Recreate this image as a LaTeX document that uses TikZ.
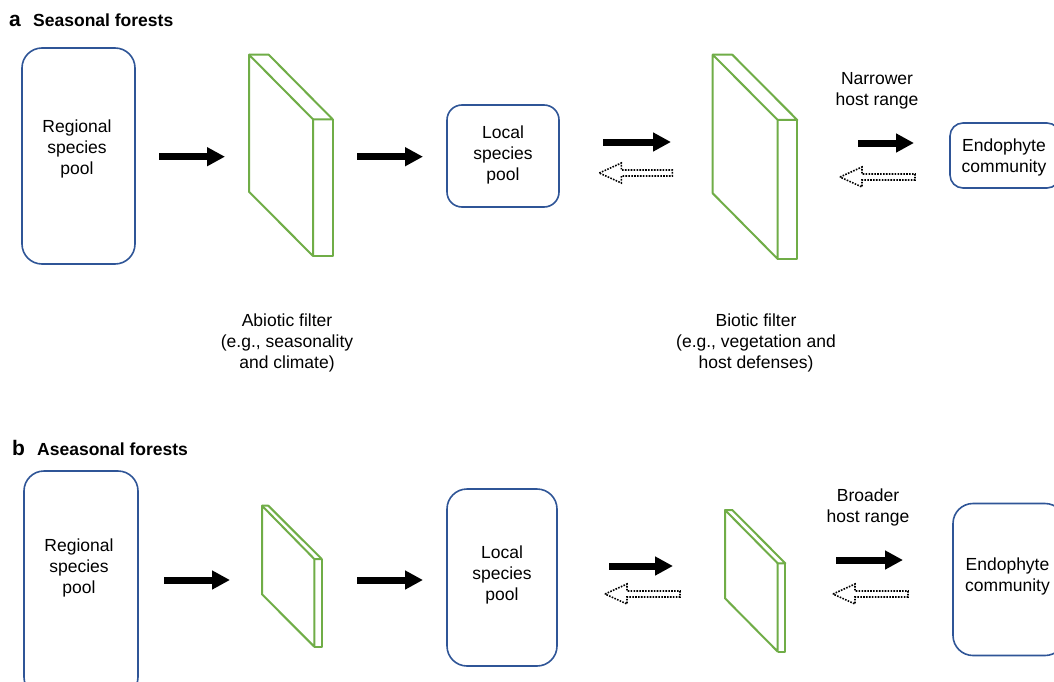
\documentclass[tikz,border=0pt]{standalone}
\usepackage{fontspec}
\setmainfont{Liberation Sans}
\usetikzlibrary{arrows.meta}
\definecolor{boxblue}{HTML}{2F5597}
\definecolor{filtgreen}{HTML}{70AD47}
\tikzset{
  poolbox/.style={draw=boxblue, line width=1.6pt, inner sep=0pt},
  txt/.style={align=center, font=\fontsize{17.5}{21}\selectfont, inner sep=0pt},
  ttl/.style={anchor=base west, inner sep=0pt, font=\bfseries\fontsize{17.5}{21}\selectfont},
  ltr/.style={anchor=base west, inner sep=0pt, font=\bfseries\fontsize{21}{24}\selectfont},
  filt/.style={draw=filtgreen, line width=2pt, line join=round},
  solidarr/.style={line width=7pt, -{Triangle[length=18pt,width=18pt]}},
  hollowarr/.style={draw=black, line width=1.6pt, dash pattern=on 1.6pt off 1.3pt},
}
\newcommand\myhollow[3]{%
  \draw[hollowarr] (#1,#3) -- (#1+22,#3-10) -- (#1+22,#3-3) -- (#2,#3-3) -- (#2,#3+3) -- (#1+22,#3+3) -- (#1+22,#3+10) -- cycle;}
\newcommand\myfilter[8]{% Ax Ay Bx Dx Fx Dy Ey Gy
  \draw[filt] (#1,#2) -- (#4,#6) -- (#4,#7) -- (#1,#8) -- cycle;
  \draw[filt] (#1,#2) -- (#3,#2) -- (#5,#6) -- (#4,#6);
  \draw[filt] (#5,#6) -- (#5,#7) -- (#4,#7);}
\begin{document}
\begin{tikzpicture}[x=1pt,y=-1pt]
\clip (0,0) rectangle (1054,682);
\fill[white] (0,0) rectangle (1054,682);

% ---------- panel a ----------
\node[ltr] (la) at (9,26.5) {a};
\node[ttl] (ta) at (33,26.5) {Seasonal forests};

\node[poolbox, rounded corners=20pt, minimum width=113pt, minimum height=216pt] (rpa) at (78.5,156) {};
\node[txt] (rpat) at (77,149) {Regional\\species\\pool};

\node[poolbox, rounded corners=15pt, minimum width=112pt, minimum height=102pt] (lpa) at (503,156) {};
\node[txt] (lpat) at (503,155) {Local\\species\\pool};

\node[poolbox, rounded corners=13pt, minimum width=110pt, minimum height=65pt] (eca) at (1005,155.5) {};
\node[txt] (ecat) at (1004,157) {Endophyte\\community};

\myfilter{249}{54.7}{268.7}{313}{332.7}{119.3}{256}{191.7}
\myfilter{712.7}{54.7}{732.3}{777.7}{797.3}{120}{259}{193.3}

\coordinate (a1s) at (159,156.7); \coordinate (a1e) at (225,156.7);
\coordinate (a2s) at (357,156.7); \coordinate (a2e) at (423,156.7);
\coordinate (a3s) at (603,142); \coordinate (a3e) at (671,142);
\coordinate (a4s) at (858,143); \coordinate (a4e) at (914,143);
\draw[solidarr] (a1s) -- (a1e);
\draw[solidarr] (a2s) -- (a2e);
\draw[solidarr] (a3s) -- (a3e);
\draw[solidarr] (a4s) -- (a4e);
\myhollow{599.3}{672.3}{173}
\myhollow{840}{915}{177}

\node[txt] (nhr) at (877,91) {Narrower\\host range};
\node[txt] (abf) at (287,342.5) {Abiotic filter\\(e.g., seasonality\\and climate)};
\node[txt] (bif) at (756,342.5) {Biotic filter\\(e.g., vegetation and\\host defenses)};

% ---------- panel b ----------
\node[ltr] (lb) at (12,455) {b};
\node[ttl] (tb) at (37,455) {Aseasonal forests};

\node[poolbox, rounded corners=20pt, minimum width=114pt, minimum height=226pt] (rpb) at (81,584) {};
\node[txt] (rpbt) at (79,567.5) {Regional\\species\\pool};

\node[poolbox, rounded corners=20pt, minimum width=110pt, minimum height=177pt] (lpb) at (502,577.5) {};
\node[txt] (lpbt) at (502,575) {Local\\species\\pool};

\node[poolbox, rounded corners=20pt, minimum width=112pt, minimum height=152pt] (ecb) at (1009,579.5) {};
\node[txt] (ecbt) at (1007.5,576) {Endophyte\\community};

\myfilter{262}{505.7}{268.3}{314.3}{321.7}{559}{646.7}{594.3}
\myfilter{725}{510}{732.3}{777.7}{785.3}{563.3}{651.6}{598.3}

\coordinate (b1s) at (164,580); \coordinate (b1e) at (230,580);
\coordinate (b2s) at (357,580); \coordinate (b2e) at (423,580);
\coordinate (b3s) at (609,566); \coordinate (b3e) at (673,566);
\coordinate (b4s) at (836,560); \coordinate (b4e) at (903,560);
\draw[solidarr] (b1s) -- (b1e);
\draw[solidarr] (b2s) -- (b2e);
\draw[solidarr] (b3s) -- (b3e);
\draw[solidarr] (b4s) -- (b4e);
\myhollow{605}{680}{594}
\myhollow{833}{908}{594}

\node[txt] (bhr) at (868,507.5) {Broader\\host range};
\end{tikzpicture}
\end{document}
